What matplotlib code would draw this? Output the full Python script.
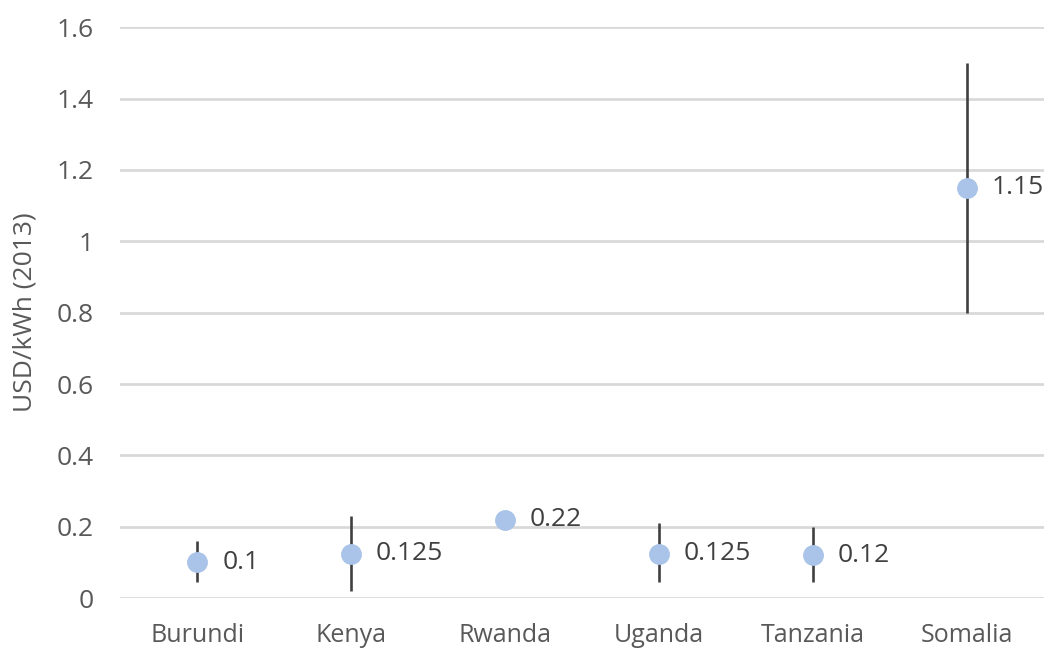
import matplotlib.pyplot as plt

countries = ['Burundi', 'Kenya', 'Rwanda', 'Uganda', 'Tanzania', 'Somalia']
cost = [0.1, 0.125, 0.22, 0.125, 0.12, 1.15]
cost_low = [0.045, 0.02, 0.22, 0.045, 0.045, 0.8]
cost_high = [0.16, 0.23, 0.22, 0.21, 0.2, 1.5]
labels = ['0.1', '0.125', '0.22', '0.125', '0.12', '1.15']
yticks = [0, 0.2, 0.4, 0.6, 0.8, 1, 1.2, 1.4, 1.6]
ytick_labels = ['0', '0.2', '0.4', '0.6', '0.8', '1', '1.2', '1.4', '1.6']

plt.rcParams['font.family'] = ['Open Sans', 'DejaVu Sans']

fig = plt.figure(figsize=(10.45, 6.48), dpi=100)
ax = fig.add_axes([0.115, 0.077, 0.884, 0.881])

x = list(range(len(countries)))
err_lo = [c - l for c, l in zip(cost, cost_low)]
err_hi = [h - c for c, h in zip(cost, cost_high)]

ax.errorbar(x, cost, yerr=[err_lo, err_hi], fmt='none', ecolor='#404040',
            elinewidth=1.9, capsize=0, zorder=2)
ax.plot(x, cost, 'o', color='#A9C4E8', markersize=14, zorder=3)

for xi, yi, t in zip(x, cost, labels):
    ax.annotate(t, (xi, yi), xytext=(18, 0), textcoords='offset points',
                va='center', ha='left', fontsize=19, color='#404040')

ax.set_xlim(-0.5, len(countries) - 0.5)
ax.set_ylim(0, 1.6)
ax.set_yticks(yticks)
ax.set_yticklabels(ytick_labels)
ax.set_xticks(x)
ax.set_xticklabels(countries)
ax.grid(axis='y', color='#D9D9D9', linewidth=2)
ax.set_axisbelow(True)
for s in ax.spines.values():
    s.set_visible(False)
ax.tick_params(axis='y', length=0, labelsize=19, colors='#595959', pad=19)
ax.tick_params(axis='x', length=0, labelsize=18, colors='#595959', pad=18)
ax.set_ylabel('USD/kWh (2013)', fontsize=19, color='#595959', labelpad=14)

fig.savefig('out.png', dpi=100)
